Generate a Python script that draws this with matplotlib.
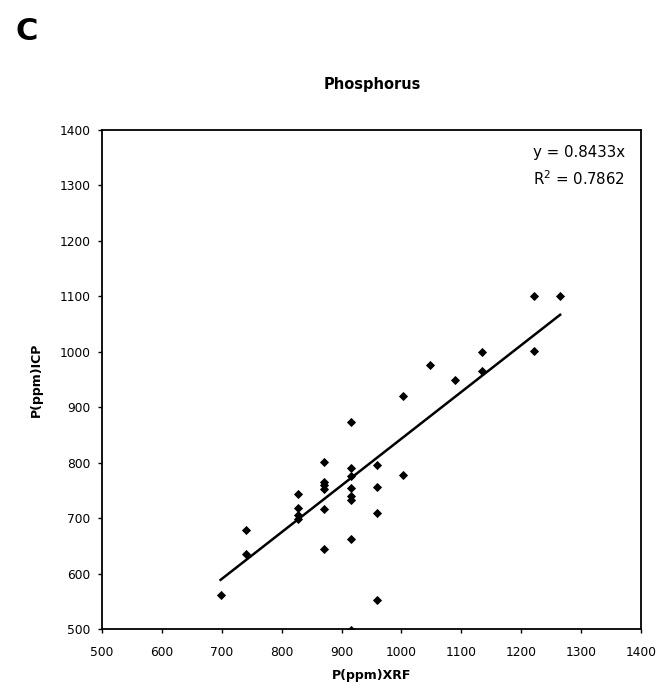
import numpy as np
import matplotlib
matplotlib.use("Agg")
import matplotlib.pyplot as plt

plt.rcParams['font.family'] = ['DejaVu Sans']

# P (ppm) measured by XRF vs ICP
xrf = [698, 741, 741,
       828, 828, 828, 828,
       871, 871, 871, 871, 871, 871,
       915, 915, 915, 915, 915, 915, 915, 915,
       959, 959, 959, 959,
       1003, 1003, 1047, 1090, 1135, 1135, 1222, 1222, 1265]
icp = [562, 678, 636,
       744, 719, 705, 698,
       801, 766, 759, 752, 716, 644,
       874, 791, 776, 754, 740, 733, 663, 498,
       796, 757, 710, 553,
       920, 778, 976, 950, 1000, 965, 1101, 1001, 1101]

slope = 0.8433
r2 = 0.7862

xticks = [500, 600, 700, 800, 900, 1000, 1100, 1200, 1300, 1400]
yticks = [500, 600, 700, 800, 900, 1000, 1100, 1200, 1300, 1400]

fig = plt.figure(figsize=(6.59, 6.90), dpi=100)
W, H = 659, 690
left, right, top, bottom = 102, 641, 130, 629
ax = fig.add_axes([left / W, 1 - bottom / H, (right - left) / W, (bottom - top) / H])

ax.plot(xrf, icp, linestyle='none', marker='D', markersize=3.8,
        markeredgewidth=0.6, color='black', zorder=3)

xfit = np.array([min(xrf), max(xrf)])
ax.plot(xfit, slope * xfit, color='black', linewidth=1.8, zorder=2)

ax.set_xlim(500, 1400)
ax.set_ylim(500, 1400)
ax.set_xticks(xticks)
ax.set_yticks(yticks)
ax.tick_params(axis='both', which='major', labelsize=8.8, direction='out',
               length=3, width=1)
ax.tick_params(axis='x', pad=9.5)
ax.tick_params(axis='y', pad=5.5)

for s in ax.spines.values():
    s.set_linewidth(1.3)

ax.set_xlabel("P(ppm)XRF", fontsize=9, fontweight='bold')
ax.set_ylabel("P(ppm)ICP", fontsize=9, fontweight='bold')
ax.xaxis.set_label_coords(0.5, (bottom - 675) / (bottom - top))
ax.yaxis.set_label_coords((36 - left) / (right - left), 0.5)
ax.xaxis.label.set_va('center')
ax.yaxis.label.set_va('center')

ax.text(0.970, 0.954, "y = %.4fx" % slope, transform=ax.transAxes,
        ha='right', va='center', fontsize=10.8)
ax.text(0.970, 0.902, "R$^2$ = %.4f" % r2, transform=ax.transAxes,
        ha='right', va='center', fontsize=10.8)

fig.text(372 / W, 1 - 85 / H, "Phosphorus", ha='center',
         va='center', fontsize=10.5, fontweight='bold')
fig.text(27 / W, 1 - 31 / H, "C", ha='center', va='center', fontsize=22,
         fontweight='bold')

fig.savefig("out.png", dpi=100)
